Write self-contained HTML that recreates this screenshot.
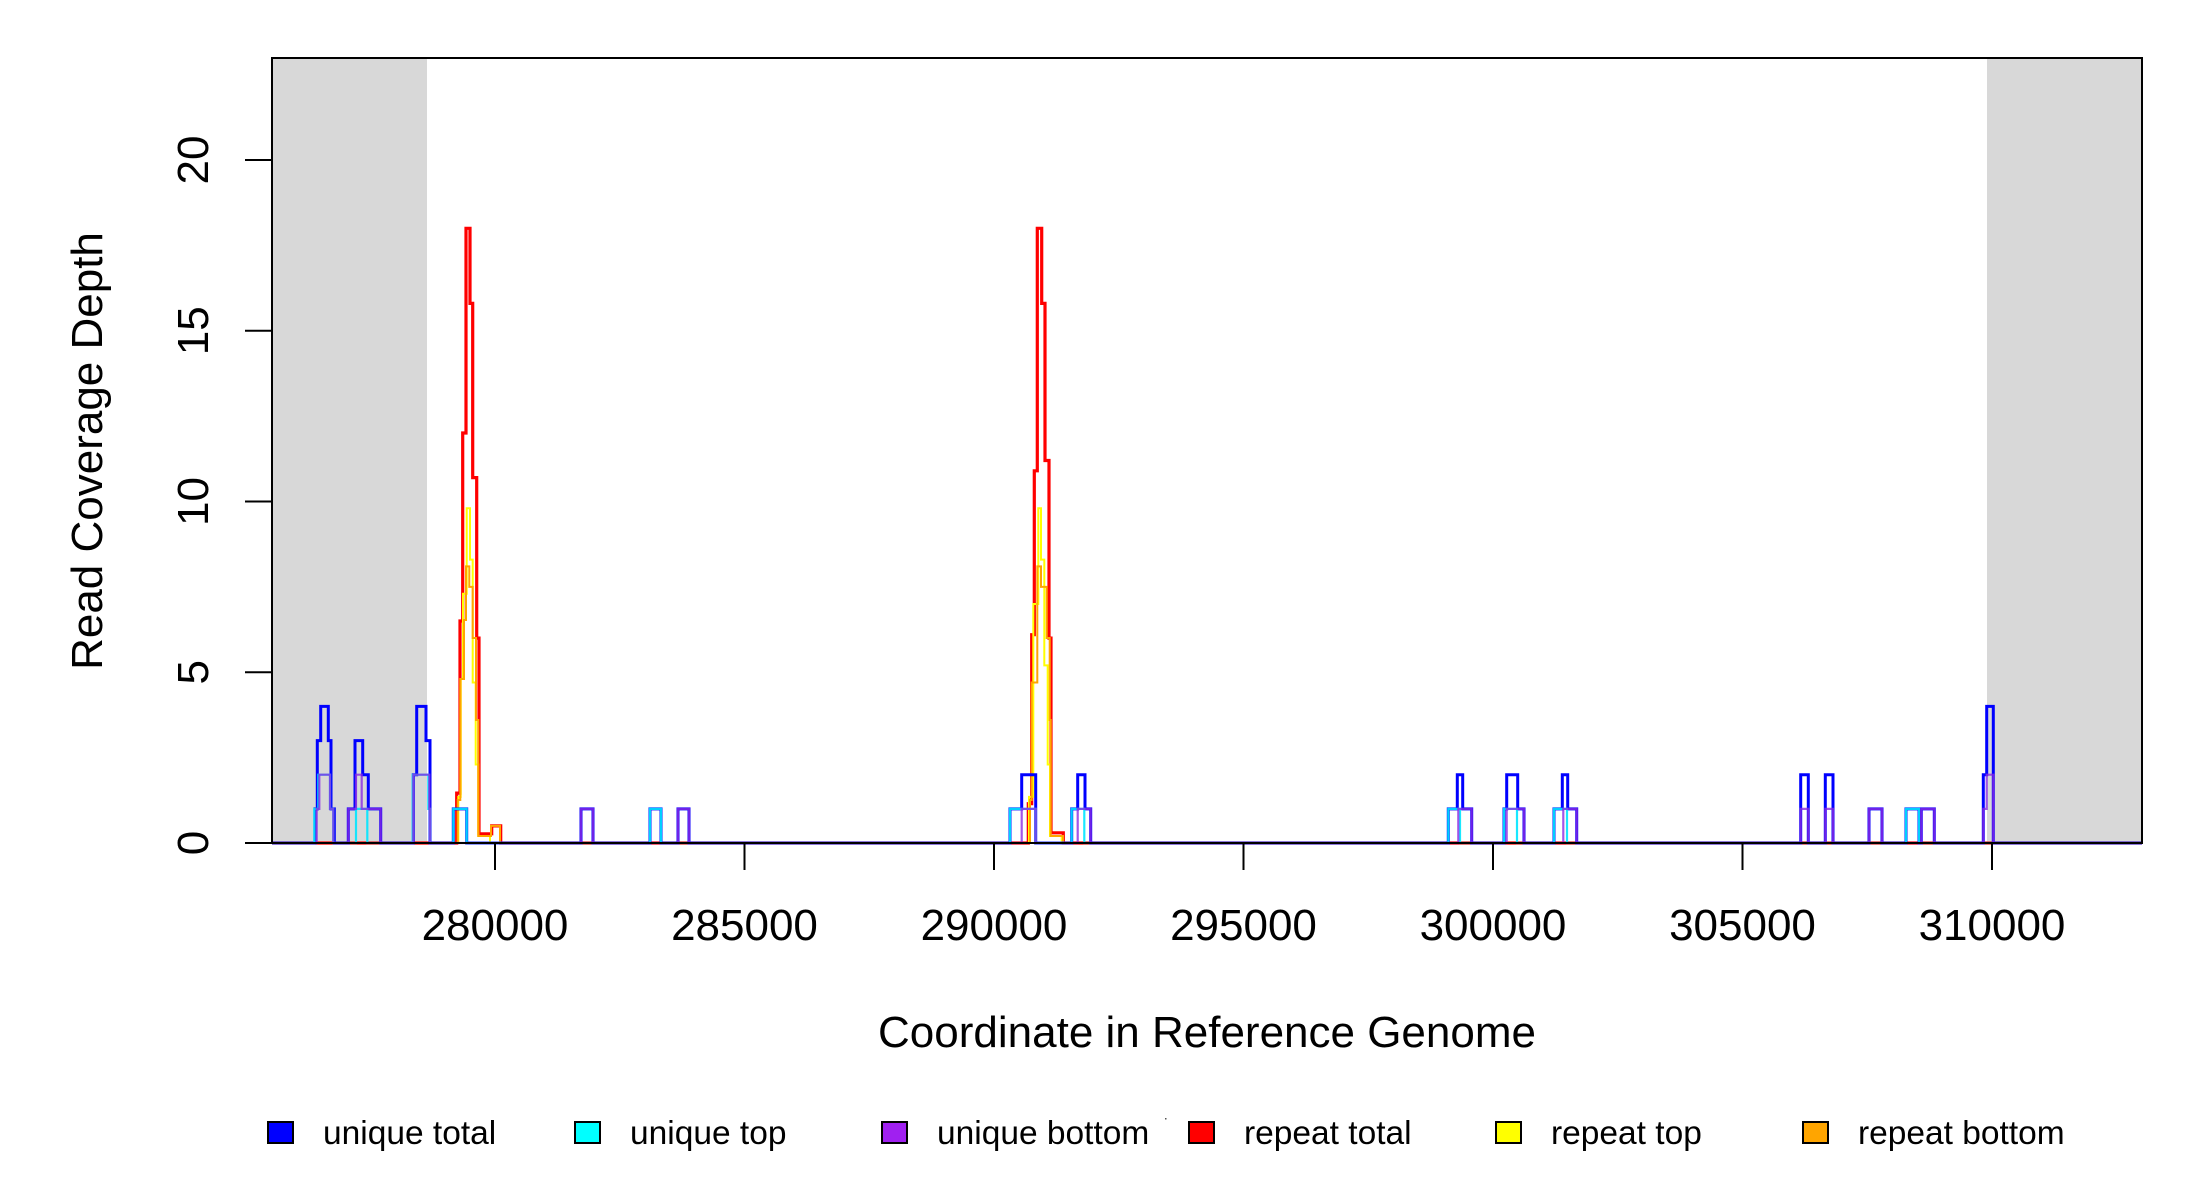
<!DOCTYPE html>
<html><head><meta charset="utf-8"><style>
html,body{margin:0;padding:0;background:#fff;}
svg{display:block;font-family:"Liberation Sans",Arial,sans-serif;}
</style></head><body>
<svg width="2200" height="1200" viewBox="0 0 2200 1200" xmlns="http://www.w3.org/2000/svg">
<rect x="0" y="0" width="2200" height="1200" fill="#fff"/>
<rect x="272" y="58" width="155" height="785" fill="#d8d8d8"/>
<rect x="1987" y="58" width="155" height="785" fill="#d8d8d8"/>
<g fill="none" stroke-linejoin="miter">
<path stroke="#ff0000" stroke-width="3.2" d="M272 843 H456.7 V793.1 H460 V621 H462.7 V433 H466 V228.3 H470 V303.4 H472.7 V477.6 H476.7 V638.1 H479 V833.8 H491.7 V825.9 H500.7 V843 H1028.3 V803.7 H1031.7 V634.7 H1034.3 V470.8 H1037.3 V228.3 H1041.7 V303.4 H1045 V460.5 H1049 V638.1 H1051 V832.8 H1063.3 V843 H2142"/>
<path stroke="#ffff00" stroke-width="2" d="M272 843 H458.3 V796.9 H460.7 V679 H463 V593.7 H466.7 V508.3 H470 V559.6 H472.7 V682.5 H475.7 V764.5 H478.3 V836 H490 V843 H1029 V796.9 H1033.3 V604 H1038.3 V508.3 H1041 V559.6 H1044.3 V665.4 H1047.7 V764.5 H1050 V836 H1061.7 V843 H2142"/>
<path stroke="#ffa500" stroke-width="2" d="M272 843 H457.7 V800 H460.3 V679 H464 V620 H466 V566.4 H469.3 V586.9 H472.7 V638 H476 V720 H478.3 V836 H491 V825.9 H500 V843 H1030 V800 H1031.7 V682.5 H1037.3 V566.4 H1041 V586.9 H1046.7 V638 H1049.7 V720 H1050.7 V836 H1063 V843 H2142"/>
<path stroke="#0000ff" stroke-width="3" d="M272 843 H315 V808.9 H317.3 V740.6 H320.7 V706.4 H328.3 V740.6 H331 V808.9 H334.3 V843 H348.3 V808.9 H355 V740.6 H362.7 V774.7 H368.3 V808.9 H380.7 V843 H413.3 V774.7 H416.7 V706.4 H426 V740.6 H430 V843 H453.3 V808.9 H466.7 V843 H581 V808.9 H593 V843 H650 V808.9 H661 V843 H678 V808.9 H689 V843 H1010 V808.9 H1021.7 V774.7 H1035.7 V843 H1071.7 V808.9 H1077.7 V774.7 H1085 V808.9 H1090.7 V843 H1448.3 V808.9 H1457.3 V774.7 H1462.7 V808.9 H1471.7 V843 H1504 V808.9 H1506.7 V774.7 H1517.7 V808.9 H1524 V843 H1554 V808.9 H1562.3 V774.7 H1567.7 V808.9 H1576.7 V843 H1800.7 V774.7 H1808.3 V843 H1825.3 V774.7 H1833 V843 H1869 V808.9 H1882 V843 H1906 V808.9 H1919 V843 H1921.3 V808.9 H1934.3 V843 H1983.3 V774.7 H1986.7 V706.4 H1993.3 V843 H2142"/>
<path stroke="#00e5ff" stroke-width="2.2" stroke-opacity="0.9" d="M272 843 H314.3 V808.9 H318.3 V774.7 H330 V808.9 H333.3 V843 H356 V808.9 H367.3 V843 H412.7 V774.7 H428.3 V808.9 H430 V843 H453.3 V808.9 H466.7 V843 H650 V808.9 H661 V843 H1010 V808.9 H1035.7 V843 H1071.7 V808.9 H1084.3 V843 H1448.3 V808.9 H1460 V843 H1504 V808.9 H1517 V843 H1554 V808.9 H1567 V843 H1906 V808.9 H1919 V843 H2142"/>
<path stroke="#8a2be2" stroke-width="2.2" stroke-opacity="0.8" d="M272 843 H316.7 V808.9 H319.3 V774.7 H330 V808.9 H333.3 V843 H348.3 V808.9 H356 V774.7 H361.7 V808.9 H380.7 V843 H413.3 V774.7 H429.3 V808.9 H430 V843 H581 V808.9 H593 V843 H678 V808.9 H689 V843 H1021.7 V808.9 H1035.7 V843 H1077.7 V808.9 H1090.7 V843 H1458.3 V808.9 H1471.7 V843 H1506.7 V808.9 H1524 V843 H1563.3 V808.9 H1576.7 V843 H1800.7 V808.9 H1808.3 V843 H1825.3 V808.9 H1833 V843 H1869 V808.9 H1882 V843 H1921.3 V808.9 H1934.3 V843 H1983.3 V808.9 H1986.7 V774.7 H1993.3 V843 H2142"/>
</g>
<rect x="272" y="58" width="1870" height="785" fill="none" stroke="#000" stroke-width="2"/>
<g stroke="#000" stroke-width="2">
<line x1="245" y1="843" x2="272" y2="843"/><line x1="245" y1="672.3" x2="272" y2="672.3"/><line x1="245" y1="501.5" x2="272" y2="501.5"/><line x1="245" y1="330.8" x2="272" y2="330.8"/><line x1="245" y1="160" x2="272" y2="160"/>
<line x1="495" y1="843" x2="495" y2="870"/><line x1="744.5" y1="843" x2="744.5" y2="870"/><line x1="994" y1="843" x2="994" y2="870"/><line x1="1243.5" y1="843" x2="1243.5" y2="870"/><line x1="1493" y1="843" x2="1493" y2="870"/><line x1="1742.5" y1="843" x2="1742.5" y2="870"/><line x1="1992" y1="843" x2="1992" y2="870"/>
</g>
<g font-size="44" fill="#000" text-anchor="middle">
<text transform="translate(208,843) rotate(-90)">0</text>
<text transform="translate(208,672.3) rotate(-90)">5</text>
<text transform="translate(208,501.5) rotate(-90)">10</text>
<text transform="translate(208,330.8) rotate(-90)">15</text>
<text transform="translate(208,160) rotate(-90)">20</text>
<text x="495" y="940">280000</text><text x="744.5" y="940">285000</text><text x="994" y="940">290000</text><text x="1243.5" y="940">295000</text><text x="1493" y="940">300000</text><text x="1742.5" y="940">305000</text><text x="1992" y="940">310000</text>
<text x="1207" y="1047">Coordinate in Reference Genome</text>
<text transform="translate(102,451) rotate(-90)">Read Coverage Depth</text>
</g>
<g stroke="#000" stroke-width="2">
<rect x="268" y="1122" width="25" height="21" fill="#0000ff"/>
<rect x="575" y="1122" width="25" height="21" fill="#00ffff"/>
<rect x="882" y="1122" width="25" height="21" fill="#a020f0"/>
<rect x="1189" y="1122" width="25" height="21" fill="#ff0000"/>
<rect x="1496" y="1122" width="25" height="21" fill="#ffff00"/>
<rect x="1803" y="1122" width="25" height="21" fill="#ffa500"/>
</g>
<g font-size="33.5" fill="#000">
<text x="323" y="1144">unique total</text>
<text x="630" y="1144">unique top</text>
<text x="937" y="1144">unique bottom</text>
<text x="1244" y="1144">repeat total</text>
<text x="1551" y="1144">repeat top</text>
<text x="1858" y="1144">repeat bottom</text>
</g>
<rect x="1165" y="1118" width="1.5" height="1.5" fill="#555"/>
</svg>
</body></html>
